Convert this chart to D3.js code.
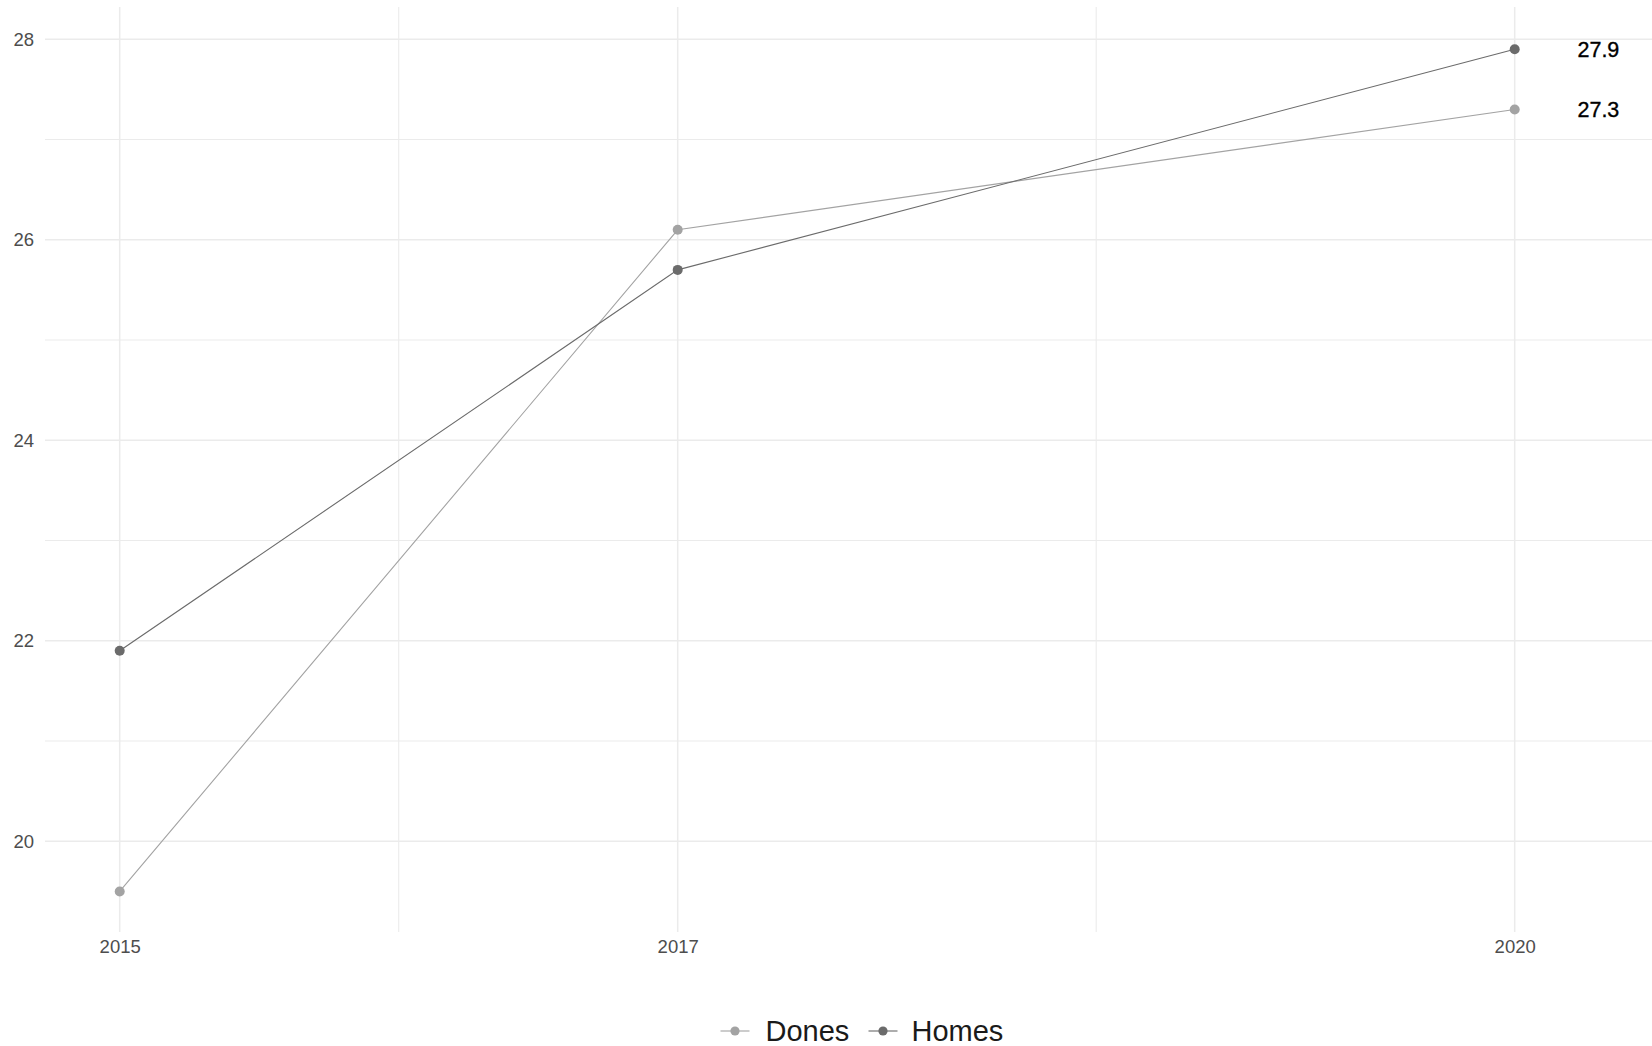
<!DOCTYPE html>
<html>
<head>
<meta charset="utf-8">
<script src="https://cdn.jsdelivr.net/npm/d3@7"></script>
<style>
  html, body { margin: 0; padding: 0; background: #ffffff; }
  svg { display: block; }
</style>
</head>
<body>
<svg id="chart" width="1652" height="1046"></svg>
<script>
// ---- data ----
const years = [2015, 2017, 2020];
const seriesNames = ["Dones", "Homes"];
const donesValues = [19.5, 26.1, 27.3];
const homesValues = [21.9, 25.7, 27.9];
const yTicks = [20, 22, 24, 26, 28];
const yMinorTicks = [21, 23, 25, 27];
const xTicks = [2015, 2017, 2020];
const xMinorTicks = [2016, 2018.5];
const labelX = 2020.3;

// ---- layout ----
const W = 1652, H = 1046;
const panel = { left: 45, right: 1652, top: 7, bottom: 932 };
const colors = { Dones: "#a3a3a3", Homes: "#6b6b6b" };
const gridColor = "#ebebeb";
const tickColor = "#4d4d4d";
const font = "'Liberation Sans', Arial, sans-serif";

const svg = d3.select("#chart");

const x = d3.scaleLinear().domain([2015, 2020]).range([119.7, 1514.7]);
const y = d3.scaleLinear().domain([20, 28]).range([841.3, 39.3]);

const series = [
  { name: "Dones", values: donesValues },
  { name: "Homes", values: homesValues }
];

// grid
const grid = svg.append("g");
grid.selectAll("line.ymin").data(yMinorTicks).join("line")
  .attr("x1", panel.left).attr("x2", panel.right)
  .attr("y1", d => y(d)).attr("y2", d => y(d))
  .attr("stroke", gridColor).attr("stroke-width", 1.1);
grid.selectAll("line.xmin").data(xMinorTicks).join("line")
  .attr("y1", panel.top).attr("y2", panel.bottom)
  .attr("x1", d => x(d)).attr("x2", d => x(d))
  .attr("stroke", gridColor).attr("stroke-width", 1.1);
grid.selectAll("line.ymaj").data(yTicks).join("line")
  .attr("x1", panel.left).attr("x2", panel.right)
  .attr("y1", d => y(d)).attr("y2", d => y(d))
  .attr("stroke", gridColor).attr("stroke-width", 1.5);
grid.selectAll("line.xmaj").data(xTicks).join("line")
  .attr("y1", panel.top).attr("y2", panel.bottom)
  .attr("x1", d => x(d)).attr("x2", d => x(d))
  .attr("stroke", gridColor).attr("stroke-width", 1.5);

// axes (text only, via d3 axis)
const yAxis = svg.append("g")
  .attr("transform", `translate(${panel.left - 5},0)`)
  .call(d3.axisLeft(y).tickValues(yTicks).tickSize(0).tickPadding(6).tickFormat(d3.format("d")));
yAxis.select(".domain").remove();
yAxis.selectAll("text")
  .attr("font-family", font).attr("font-size", 18.5).attr("fill", tickColor);

const xAxis = svg.append("g")
  .attr("transform", `translate(0,${panel.bottom})`)
  .call(d3.axisBottom(x).tickValues(xTicks).tickSize(0).tickPadding(8).tickFormat(d3.format("d")));
xAxis.select(".domain").remove();
xAxis.selectAll("text")
  .attr("font-family", font).attr("font-size", 18.5).attr("fill", tickColor);

// lines
const line = d3.line().x((d, i) => x(years[i])).y(d => y(d));
svg.selectAll("path.series").data(series).join("path")
  .attr("class", "series")
  .attr("d", d => line(d.values))
  .attr("fill", "none")
  .attr("stroke", d => colors[d.name])
  .attr("stroke-width", 1.1);

// points
series.forEach(s => {
  svg.append("g").selectAll("circle").data(s.values).join("circle")
    .attr("cx", (d, i) => x(years[i]))
    .attr("cy", d => y(d))
    .attr("r", 5)
    .attr("fill", colors[s.name]);
});

// end labels
svg.append("g").selectAll("text").data(series).join("text")
  .attr("x", x(labelX))
  .attr("y", d => y(d.values[d.values.length - 1]))
  .attr("dy", "0.36em")
  .attr("text-anchor", "middle")
  .attr("font-family", font)
  .attr("font-size", 21.5)
  .attr("fill", "#000000")
  .attr("stroke", "#000000")
  .attr("stroke-width", 0.35)
  .text(d => d3.format(".1f")(d.values[d.values.length - 1]));

// legend
const legendY = 1031;
const legendItems = [
  { name: "Dones", keyX: 720.5, textX: 765.5 },
  { name: "Homes", keyX: 868.5, textX: 911.5 }
];
const lg = svg.append("g");
legendItems.forEach(it => {
  lg.append("line")
    .attr("x1", it.keyX).attr("x2", it.keyX + 29)
    .attr("y1", legendY).attr("y2", legendY)
    .attr("stroke", colors[it.name]).attr("stroke-width", 1.1);
  lg.append("circle")
    .attr("cx", it.keyX + 14.5).attr("cy", legendY).attr("r", 4.6)
    .attr("fill", colors[it.name]);
  lg.append("text")
    .attr("x", it.textX).attr("y", legendY).attr("dy", "0.36em")
    .attr("font-family", font).attr("font-size", 29).attr("fill", "#1a1a1a")
    .text(it.name);
});
</script>
</body>
</html>
